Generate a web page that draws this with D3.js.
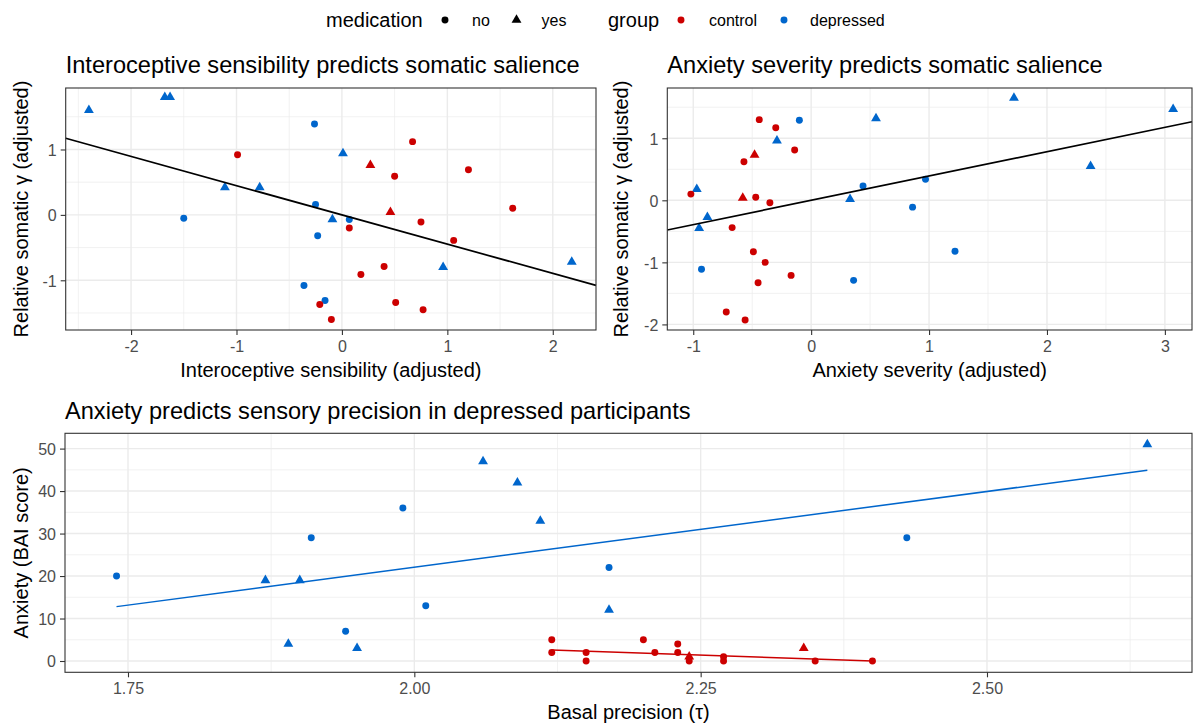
<!DOCTYPE html>
<html>
<head>
<meta charset="utf-8">
<script src="https://cdn.jsdelivr.net/npm/d3@7"></script>
<style>
  html, body { margin: 0; padding: 0; background: #fff; }
  svg { display: block; font-family: "Liberation Sans", Arial, sans-serif; }
</style>
</head>
<body>
<svg id="chart" width="1194" height="724"></svg>
<script>
// ---------- Panel 1: Interoceptive sensibility vs somatic salience ----------
const p1X = [-2.40, -1.68, -1.63, -0.26, -1.11, -0.78, -0.25, -1.50, -0.23, -0.36, -0.16, 0.01, -0.09, 0.07, 0.96, 2.18,
             -0.99, -0.21, 0.67, 0.27, 0.50, 1.20, 1.62, 0.46, 0.75, 0.07, 1.06, 0.40, 0.18, 0.51, 0.77, -0.10];
const p1Y = [1.60, 1.80, 1.80, 1.39, 0.42, 0.42, 0.16, -0.05, -0.32, -1.08, -1.31, 0.94, -0.07, -0.07, -0.80, -0.72,
             0.92, -1.37, 1.12, 0.76, 0.59, 0.69, 0.10, 0.04, -0.11, -0.20, -0.39, -0.79, -0.91, -1.34, -1.45, -1.60];
const p1Group = ["d","d","d","d","d","d","d","d","d","d","d","d","d","d","d","d",
                 "c","c","c","c","c","c","c","c","c","c","c","c","c","c","c","c"];
const p1Med = ["yes","yes","yes","no","yes","yes","no","no","no","no","no","yes","yes","no","yes","yes",
               "no","no","no","yes","no","no","no","yes","no","no","no","no","no","no","no","no"];
const p1Fit = [0.0, -0.447];          // intercept, slope
const p1XTicks = [-2, -1, 0, 1, 2];
const p1YTicks = [-1, 0, 1];

// ---------- Panel 2: Anxiety severity vs somatic salience ----------
const p2X = [-0.97, -0.88, -0.95, -0.93, -0.29, -0.10, 0.33, 0.44, 0.36, 0.55, 0.86, 0.97, 1.22, 1.72, 2.37, 3.07,
             -1.02, -0.67, -0.72, -0.56, -0.57, -0.48, -0.58, -0.47, -0.44, -0.30, -0.14, -0.35, -0.49, -0.39, -0.45, -0.17];
const p2Y = [0.18, -0.27, -0.45, -1.11, 0.96, 1.29, 0.02, 0.23, -1.29, 1.32, -0.11, 0.34, -0.82, 1.65, 0.55, 1.47,
             0.10, -0.44, -1.80, -1.93, 0.62, 0.73, 0.04, 0.05, 1.30, 1.17, 0.81, -0.04, -0.83, -1.00, -1.33, -1.21];
const p2Group = ["d","d","d","d","d","d","d","d","d","d","d","d","d","d","d","d",
                 "c","c","c","c","c","c","c","c","c","c","c","c","c","c","c","c"];
const p2Med = ["yes","yes","yes","no","yes","no","yes","no","no","yes","no","no","no","yes","yes","yes",
               "no","no","no","no","no","yes","yes","no","no","no","no","no","no","no","no","no"];
const p2Fit = [0.0, 0.392];
const p2XTicks = [-1, 0, 1, 2, 3];
const p2YTicks = [-2, -1, 0, 1];

// ---------- Panel 3: Basal precision vs BAI ----------
const p3X = [1.74, 1.87, 1.89, 1.90, 1.91, 1.94, 1.95, 1.99, 2.01, 2.06, 2.09, 2.11, 2.17, 2.17, 2.43, 2.64,
             2.12, 2.12, 2.15, 2.15, 2.20, 2.21, 2.23, 2.23, 2.24, 2.24, 2.27, 2.27, 2.34, 2.35, 2.40];
const p3Y = [20, 19, 4, 19, 29, 7, 3, 36, 13, 47, 42, 33, 22, 12, 29, 51,
             5, 2, 2, 0, 5, 2, 4, 2, 1, 0, 1, 0, 3, 0, 0];
const p3Group = ["d","d","d","d","d","d","d","d","d","d","d","d","d","d","d","d",
                 "c","c","c","c","c","c","c","c","c","c","c","c","c","c","c"];
const p3Med = ["no","yes","yes","yes","no","no","yes","no","no","yes","yes","yes","no","yes","no","yes",
               "no","no","no","no","no","no","no","no","yes","no","no","no","yes","no","no"];
const p3FitDepX = [1.74, 2.64];
const p3FitDepY = [12.8, 44.9];
const p3FitConX = [2.12, 2.40];
const p3FitConY = [2.6, 0.0];
const p3XTicks = [1.75, 2.00, 2.25, 2.50];
const p3YTicks = [0, 10, 20, 30, 40, 50];

const groupNames = ["control", "depressed"];
const medNames = ["no", "yes"];

// ---------- styling ----------
const colorScale = d3.scaleOrdinal().domain(["c", "d"]).range(["#cc0000", "#0066cc"]);
const shapeScale = d3.scaleOrdinal().domain(["no", "yes"]).range([d3.symbolCircle, d3.symbolTriangle]);
const sizeScale = d3.scaleOrdinal().domain(["no", "yes"]).range([38, 42]);

const svg = d3.select("#chart");
svg.append("rect").attr("width", 1194).attr("height", 724).attr("fill", "#fff");

function drawPanel(opt) {
  const { x0, x1, y0, y1, xDom, yDom, xTicks, yTicks, xMinor, yMinor, xFmt, title, xTitle, yTitle, yTitleX } = opt;
  const x = d3.scaleLinear().domain(xDom).range([x0, x1]);
  const y = d3.scaleLinear().domain(yDom).range([y1, y0]);
  const g = svg.append("g");

  // minor grid
  g.selectAll(".xmin").data(xMinor.filter(v => v > xDom[0] && v < xDom[1])).join("line")
    .attr("x1", d => x(d)).attr("x2", d => x(d)).attr("y1", y0).attr("y2", y1)
    .attr("stroke", "#ebebeb").attr("stroke-width", 0.7);
  g.selectAll(".ymin").data(yMinor.filter(v => v > yDom[0] && v < yDom[1])).join("line")
    .attr("y1", d => y(d)).attr("y2", d => y(d)).attr("x1", x0).attr("x2", x1)
    .attr("stroke", "#ebebeb").attr("stroke-width", 0.7);
  // major grid
  g.selectAll(".xmaj").data(xTicks).join("line")
    .attr("x1", d => x(d)).attr("x2", d => x(d)).attr("y1", y0).attr("y2", y1)
    .attr("stroke", "#ebebeb").attr("stroke-width", 1.4);
  g.selectAll(".ymaj").data(yTicks).join("line")
    .attr("y1", d => y(d)).attr("y2", d => y(d)).attr("x1", x0).attr("x2", x1)
    .attr("stroke", "#ebebeb").attr("stroke-width", 1.4);

  // axes
  const xAxis = d3.axisBottom(x).tickValues(xTicks).tickSize(5).tickPadding(4).tickFormat(xFmt);
  const yAxis = d3.axisLeft(y).tickValues(yTicks).tickSize(5).tickPadding(4).tickFormat(d3.format("d"));
  const gx = g.append("g").attr("transform", `translate(0,${y1})`).call(xAxis);
  const gy = g.append("g").attr("transform", `translate(${x0},0)`).call(yAxis);
  [gx, gy].forEach(a => {
    a.select(".domain").remove();
    a.selectAll(".tick line").attr("stroke", "#333").attr("stroke-width", 1.1);
    a.selectAll(".tick text").attr("fill", "#4d4d4d").attr("font-size", 16)
      .attr("font-family", "'Liberation Sans', Arial, sans-serif");
  });
  gx.selectAll(".tick text").attr("dy", null).attr("y", 22);
  gy.selectAll(".tick text").attr("x", -9).attr("dy", "0.36em");
  gx.selectAll(".tick text").text(d => xFmt(d).replace("−", "-"));
  gy.selectAll(".tick text").text(d => d3.format("d")(d).replace("−", "-"));

  // titles
  svg.append("text").attr("x", x0).attr("y", y0 - 14.7).attr("font-size", 23.6).attr("fill", "#000").text(title);
  svg.append("text").attr("x", (x0 + x1) / 2).attr("y", y1 + 47).attr("text-anchor", "middle")
    .attr("font-size", 20).attr("fill", "#000").text(xTitle);
  svg.append("text").attr("transform", `translate(${yTitleX},${(y0 + y1) / 2}) rotate(-90)`)
    .attr("text-anchor", "middle").attr("font-size", 20).attr("fill", "#000").text(yTitle);

  return { g, x, y, x0, x1, y0, y1 };
}

function drawPoints(P, xs, ys, gr, md) {
  const data = xs.map((v, i) => ({ x: v, y: ys[i], g: gr[i], m: md[i] }));
  P.g.selectAll(".pt").data(data).join("path")
    .attr("d", d => d3.symbol().type(shapeScale(d.m)).size(sizeScale(d.m))())
    .attr("transform", d => `translate(${P.x(d.x)},${P.y(d.y)})`)
    .attr("fill", d => colorScale(d.g));
}

function drawBorder(P) {
  P.g.append("rect").attr("x", P.x0).attr("y", P.y0).attr("width", P.x1 - P.x0).attr("height", P.y1 - P.y0)
    .attr("fill", "none").attr("stroke", "#333").attr("stroke-width", 1.1);
}

function drawAbline(P, fit, color) {
  const [a, b] = fit;
  const [d0, d1] = P.x.domain();
  P.g.append("line")
    .attr("x1", P.x(d0)).attr("y1", P.y(a + b * d0))
    .attr("x2", P.x(d1)).attr("y2", P.y(a + b * d1))
    .attr("stroke", color).attr("stroke-width", 1.7);
}

// Panel 1
const P1 = drawPanel({
  x0: 65.7, x1: 596, y0: 88, y1: 330, xDom: [-2.62, 2.41], yDom: [-1.76, 1.94],
  xTicks: p1XTicks, yTicks: p1YTicks, xMinor: [-2.5, -1.5, -0.5, 0.5, 1.5], yMinor: [-1.5, -0.5, 0.5, 1.5],
  xFmt: d3.format("d"),
  title: "Interoceptive sensibility predicts somatic salience",
  xTitle: "Interoceptive sensibility (adjusted)", yTitle: "Relative somatic γ (adjusted)", yTitleX: 28
});
drawPoints(P1, p1X, p1Y, p1Group, p1Med);
drawAbline(P1, p1Fit, "#000");
drawBorder(P1);

// Panel 2
const P2 = drawPanel({
  x0: 667.3, x1: 1192, y0: 88, y1: 330, xDom: [-1.22, 3.23], yDom: [-2.09, 1.81],
  xTicks: p2XTicks, yTicks: p2YTicks, xMinor: [-0.5, 0.5, 1.5, 2.5], yMinor: [-1.5, -0.5, 0.5, 1.5],
  xFmt: d3.format("d"),
  title: "Anxiety severity predicts somatic salience",
  xTitle: "Anxiety severity (adjusted)", yTitle: "Relative somatic γ (adjusted)", yTitleX: 628
});
drawPoints(P2, p2X, p2Y, p2Group, p2Med);
drawAbline(P2, p2Fit, "#000");
drawBorder(P2);

// Panel 3
const P3 = drawPanel({
  x0: 65, x1: 1192, y0: 433.3, y1: 672.3, xDom: [1.695, 2.679], yDom: [-2.66, 53.6],
  xTicks: p3XTicks, yTicks: p3YTicks, xMinor: [1.625, 1.875, 2.125, 2.375, 2.625], yMinor: [5, 15, 25, 35, 45],
  xFmt: d3.format(".2f"),
  title: "Anxiety predicts sensory precision in depressed participants",
  xTitle: "Basal precision (τ)", yTitle: "Anxiety (BAI score)", yTitleX: 28
});
drawPoints(P3, p3X, p3Y, p3Group, p3Med);
const line = d3.line().x(d => P3.x(d[0])).y(d => P3.y(d[1]));
P3.g.append("path").attr("d", line(p3FitDepX.map((v, i) => [v, p3FitDepY[i]])))
  .attr("fill", "none").attr("stroke", "#0066cc").attr("stroke-width", 1.5);
P3.g.append("path").attr("d", line(p3FitConX.map((v, i) => [v, p3FitConY[i]])))
  .attr("fill", "none").attr("stroke", "#cc0000").attr("stroke-width", 1.5);
drawBorder(P3);

// ---------- legend ----------
const leg = svg.append("g");
const ly = 20;
leg.append("text").attr("x", 326).attr("y", ly + 7).attr("font-size", 20).text("medication");
const medKeyX = [445, 516.5];
const medLabX = [472, 541.5];
medNames.forEach((m, i) => {
  leg.append("path").attr("d", d3.symbol().type(shapeScale(m)).size(sizeScale(m))())
    .attr("transform", `translate(${medKeyX[i]},${ly})`).attr("fill", "#000");
  leg.append("text").attr("x", medLabX[i]).attr("y", ly + 6).attr("font-size", 16).text(m);
});
leg.append("text").attr("x", 608).attr("y", ly + 7).attr("font-size", 20).text("group");
const grpKeyX = [681, 784];
const grpLabX = [709, 810];
groupNames.forEach((gname, i) => {
  leg.append("path").attr("d", d3.symbol().type(d3.symbolCircle).size(38)())
    .attr("transform", `translate(${grpKeyX[i]},${ly})`).attr("fill", colorScale(i === 0 ? "c" : "d"));
  leg.append("text").attr("x", grpLabX[i]).attr("y", ly + 6).attr("font-size", 16).text(gname);
});
</script>
</body>
</html>
